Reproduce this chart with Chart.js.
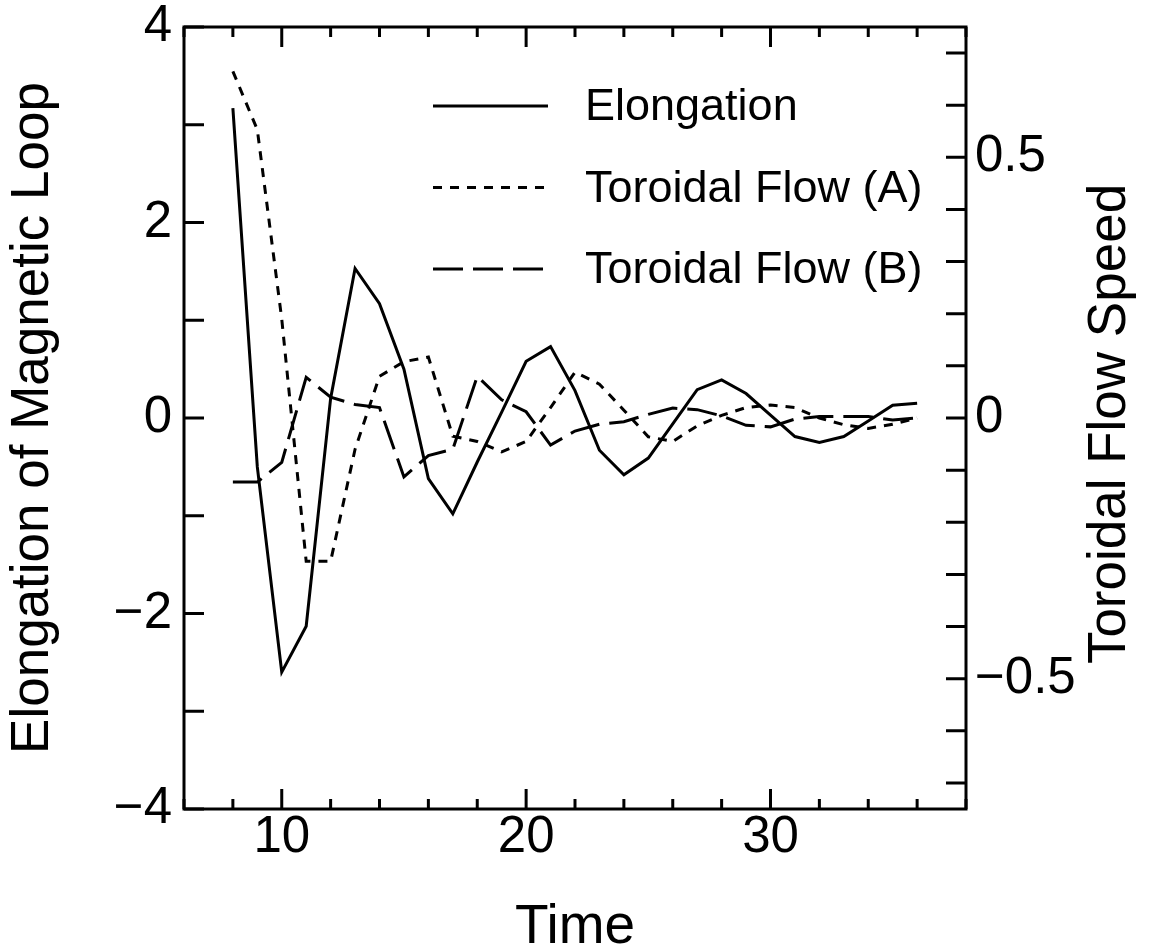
<!DOCTYPE html>
<html>
<head>
<meta charset="utf-8">
<title>Elongation of Magnetic Loop</title>
<script src="https://cdn.jsdelivr.net/npm/chart.js@4.4.1/dist/chart.umd.min.js"></script>
<style>
  html, body { margin: 0; padding: 0; background: #fff; }
  #wrap { width: 1150px; height: 951px; position: relative; }
</style>
</head>
<body>
<div id="wrap"><canvas id="loopChart"></canvas></div>
<script>
// values, one per time step
const times = [8, 9, 10, 11, 12, 13, 14, 15, 16, 17, 18, 19, 20, 21, 22,
  23, 24, 25, 26, 27, 28, 29, 30, 31, 32, 33, 34, 35, 36];
const elongation = [3.17, -0.5, -2.6, -2.13, 0.2, 1.53, 1.17, 0.5, -0.62, -0.98,
  -0.45, 0.06, 0.58, 0.73, 0.28, -0.33, -0.58, -0.41, -0.06, 0.29, 0.39, 0.25,
  0.03, -0.19, -0.25, -0.19, -0.03, 0.13, 0.15];
const flowA = [0.665, 0.553, 0.19, -0.275, -0.275, -0.06, 0.08, 0.108, 0.117,
  -0.035, -0.045, -0.065, -0.045, 0.02, 0.088, 0.065, 0.015, -0.036, -0.045,
  -0.015, 0.005, 0.02, 0.025, 0.02, 0.0, -0.013, -0.02, -0.012, 0.0];
const flowB = [-0.123, -0.123, -0.085, 0.078, 0.04, 0.026, 0.02, -0.113, -0.072,
  -0.06, 0.08, 0.035, 0.012, -0.052, -0.025, -0.012, -0.007, 0.007, 0.019, 0.016,
  0.004, -0.014, -0.017, -0.002, 0.003, 0.003, 0.003, -0.004, 0.0];

const seriesLabels = ["Elongation", "Toroidal Flow (A)", "Toroidal Flow (B)"];
const xTicks = [10, 20, 30];
const leftTicks = [-4, -2, 0, 2, 4];
const rightTicks = [-0.5, 0, 0.5];

const FONT = "'Liberation Sans', Arial, Helvetica, sans-serif";
const minus = v => String(v).replace("-", "\u2212");
const toPoints = vals => vals.map((v, i) => ({ x: times[i], y: v }));
const fixTicks = list => scale => { scale.ticks = list.map(v => ({ value: v })); };
// fixed axis width, and don't let the end labels push the plot inwards
const fixWidth = w => scale => {
  scale.width = w;
  scale.paddingTop = 0;
  scale.paddingBottom = 0;
};

// box round the plot, with the inward tick marks on all four sides
const frameTicks = {
  id: "frameTicks",
  afterDatasetsDraw(chart) {
    const { ctx, chartArea: a, scales } = chart;
    ctx.save();
    ctx.strokeStyle = "#000";
    ctx.lineWidth = 3;
    ctx.setLineDash([]);
    ctx.beginPath();
    for (let v = -4; v <= 4; v++) {
      const y = scales.y.getPixelForValue(v);
      ctx.moveTo(a.left, y);
      ctx.lineTo(a.left + 20, y);
    }
    for (let t = 6; t <= 38; t += 2) {
      const x = scales.x.getPixelForValue(t);
      const len = t % 10 === 0 ? 20 : 10;
      ctx.moveTo(x, a.bottom);
      ctx.lineTo(x, a.bottom - len);
      ctx.moveTo(x, a.top);
      ctx.lineTo(x, a.top + len);
    }
    for (let k = -7; k <= 7; k++) {
      const y = scales.y2.getPixelForValue(k / 10);
      ctx.moveTo(a.right, y);
      ctx.lineTo(a.right - 20, y);
    }
    ctx.stroke();
    ctx.strokeRect(a.left, a.top, a.width, a.height);
    ctx.restore();
  }
};

// legend inside the plot + right axis title (reads bottom to top)
const lineLegend = {
  id: "lineLegend",
  afterDraw(chart) {
    const { ctx, chartArea: a } = chart;
    ctx.save();
    ctx.fillStyle = "#000";
    ctx.strokeStyle = "#000";
    ctx.lineWidth = 3;
    ctx.font = "45px " + FONT;
    ctx.textBaseline = "middle";
    chart.data.datasets.forEach((ds, i) => {
      const y = 106 + i * 81.5;
      ctx.setLineDash(ds.borderDash || []);
      ctx.beginPath();
      ctx.moveTo(433, y);
      ctx.lineTo(548, y);
      ctx.stroke();
      ctx.fillText(ds.label, 585, y + 2);
    });
    ctx.font = "53px " + FONT;
    ctx.textAlign = "center";
    ctx.translate(1110, (a.top + a.bottom) / 2 + 6);
    ctx.rotate(-Math.PI / 2);
    ctx.fillText("Toroidal Flow Speed", 0, 0);
    ctx.restore();
  }
};

const tickFont = { family: FONT, size: 51, lineHeight: 1 };
const titleFont = { family: FONT, size: 53, lineHeight: 1 };

new Chart(document.getElementById("loopChart"), {
  type: "line",
  data: {
    datasets: [
      {
        label: seriesLabels[0],
        data: toPoints(elongation),
        yAxisID: "y",
        borderColor: "#000",
        borderWidth: 3,
        borderDash: [],
        pointRadius: 0,
        tension: 0
      },
      {
        label: seriesLabels[1],
        data: toPoints(flowA),
        yAxisID: "y2",
        borderColor: "#000",
        borderWidth: 3,
        borderDash: [9, 8],
        pointRadius: 0,
        tension: 0
      },
      {
        label: seriesLabels[2],
        data: toPoints(flowB),
        yAxisID: "y2",
        borderColor: "#000",
        borderWidth: 3,
        borderDash: [30, 10],
        pointRadius: 0,
        tension: 0
      }
    ]
  },
  options: {
    responsive: true,
    maintainAspectRatio: false,
    animation: false,
    layout: { padding: { top: 27, left: 0, right: 0, bottom: 0 } },
    plugins: {
      legend: { display: false },
      tooltip: { enabled: false }
    },
    scales: {
      x: {
        type: "linear",
        min: 6,
        max: 38,
        grid: { display: false, drawTicks: false },
        border: { display: false },
        afterBuildTicks: fixTicks(xTicks),
        afterFit: s => { s.height = 142; },
        ticks: { font: tickFont, color: "#000", padding: 3, maxRotation: 0, autoSkip: false },
        title: {
          display: true,
          text: "Time",
          color: "#000",
          font: { family: FONT, size: 55, lineHeight: 1 },
          padding: { top: 0, bottom: -4 }
        }
      },
      y: {
        position: "left",
        min: -4,
        max: 4,
        grid: { display: false, drawTicks: false },
        border: { display: false },
        afterBuildTicks: fixTicks(leftTicks),
        afterFit: fixWidth(184),
        ticks: { font: tickFont, color: "#000", padding: 12, callback: v => minus(v) },
        title: {
          display: true,
          text: "Elongation of Magnetic Loop",
          color: "#000",
          font: titleFont,
          padding: { top: 7, bottom: 0 }
        }
      },
      y2: {
        position: "right",
        min: -0.75,
        max: 0.75,
        grid: { display: false, drawTicks: false },
        border: { display: false },
        afterBuildTicks: fixTicks(rightTicks),
        afterFit: fixWidth(184),
        ticks: { font: tickFont, color: "#000", padding: 9, callback: v => minus(v) }
      }
    }
  },
  plugins: [frameTicks, lineLegend]
});
</script>
</body>
</html>
